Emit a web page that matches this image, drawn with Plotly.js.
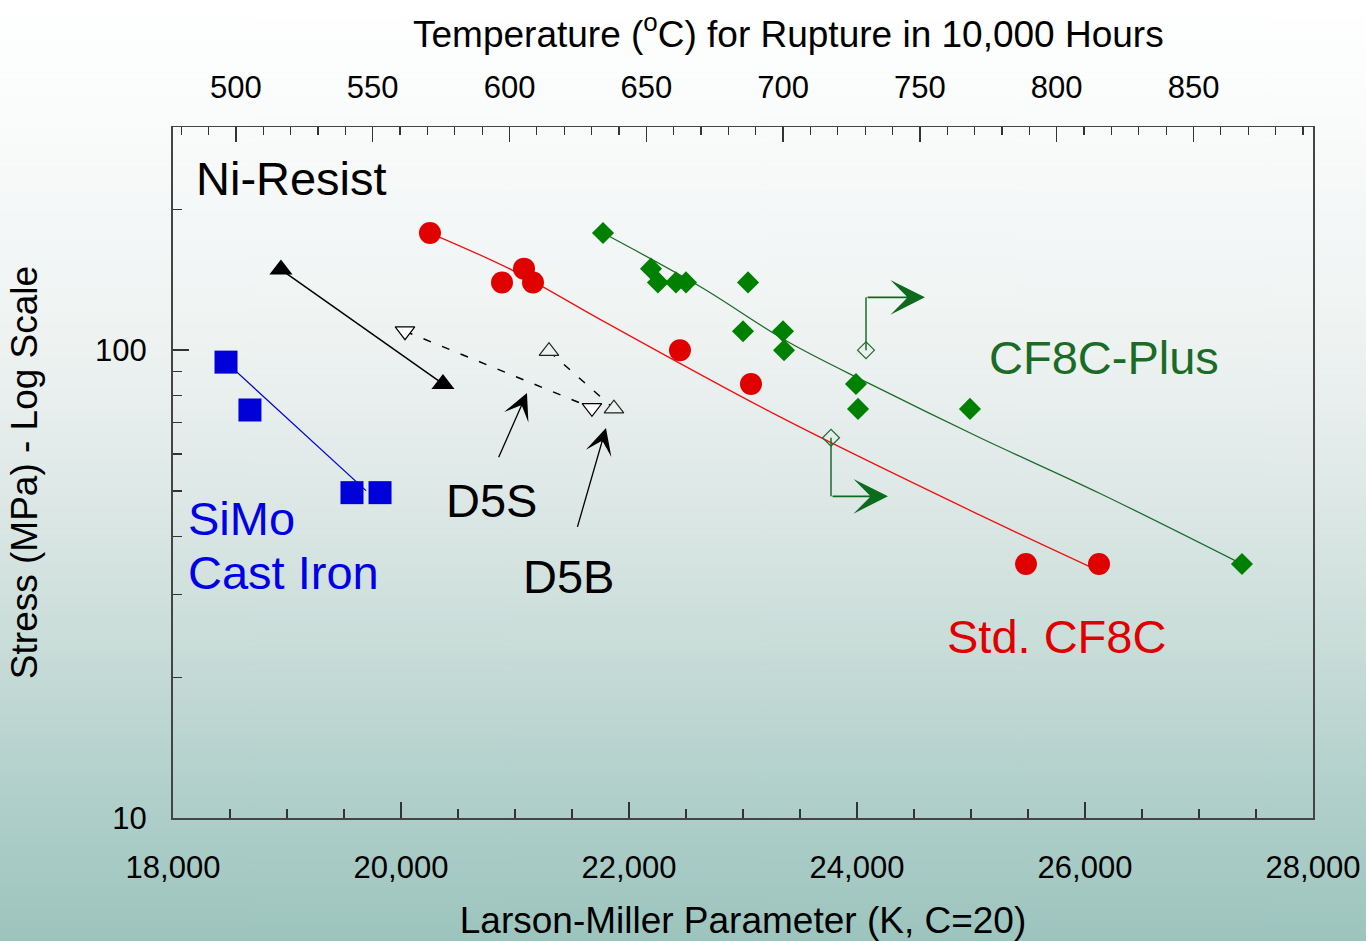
<!DOCTYPE html>
<html>
<head>
<meta charset="utf-8">
<script src="https://cdn.plot.ly/plotly-3.0.1.min.js"></script>
<style>
  html, body { margin: 0; padding: 0; }
  body {
    width: 1366px; height: 941px; overflow: hidden;
    background: linear-gradient(to bottom, #ffffff 0px, #f8fafa 150px, #edf2f1 350px, #dde8e6 500px, #c8dcd8 650px, #b0cfca 800px, #9cc4bd 941px);
  }
  #chart { width: 1366px; height: 941px; }
</style>
</head>
<body>
<div id="chart"></div>
<script>
// ---- Data (Larson-Miller parameter, stress in MPa) ----
const simoLMP = [18465, 18675, 19570, 19816];
const simoStress = [94.3, 74.5, 49.6, 49.6];
const simoFitLMP = [18465, 19693];
const simoFitStress = [94.3, 50.1];

const niResistLMP = [18947, 20368];
const niResistStress = [148.7, 84.7];

const d5sLMP = [20035, 21675];
const d5sStress = [109.8, 75.3];
const d5bLMP = [21298, 21868];
const d5bStress = [99.5, 75.0];

const cf8cLMP = [20254, 20886, 21079, 21158, 22447, 23070, 25482, 26123];
const cf8cStress = [178, 139.6, 149.4, 139.6, 100, 84.7, 34.9, 34.9];
const cf8cFitLMP = [20254, 20982, 21746, 23325, 25079, 26060];
const cf8cFitStress = [178, 148, 116.4, 72.0, 44.4, 34.3];

const plusLMP = [21772, 22193, 22254, 22412, 22500, 23044, 23000, 23351, 23360, 23991, 24009, 24991, 27377];
const plusStress = [178, 149.4, 139.6, 139.6, 139.6, 139.6, 109.8, 109.8, 100, 84.7, 74.9, 74.9, 34.9];
const plusFitLMP = [21772, 22623, 23386, 24114, 25079, 26132, 27377];
const plusFitStress = [178, 136.8, 104.5, 84.7, 65.0, 49.4, 34.9];

// run-out (still running) tests and their arrows
const runLMP = [24079, 23772];
const runStress = [100, 65];
const runArrowStress = [129.7, 48.7];
const runArrowEndLMP = [24596, 24272];

// top axis temperatures (°C) ; LMP = (T+273)*(20+log10(10000))
const tempTicks = [500, 550, 600, 650, 700, 750, 800, 850];
const lmpRange = [18000, 28000];
const stressRange = [10, 300];

const FONT = '"Liberation Sans", Arial, Helvetica, sans-serif';
const GREEN = '#008000', GREEN_LINE = '#1e6b2b', GREEN_TXT = '#1a6b26';
const RED = '#e00000', BLUE = '#0000d8';

const traces = [
  {x: simoFitLMP, y: simoFitStress, mode: 'lines', line: {color: BLUE, width: 1.3}},
  {x: simoLMP, y: simoStress, mode: 'markers', marker: {symbol: 'square', size: 23, color: BLUE}},
  {x: niResistLMP, y: niResistStress, mode: 'lines+markers', line: {color: '#000', width: 1.5},
   marker: {symbol: 'triangle-up', size: 20, color: '#000'}},
  {x: d5sLMP, y: d5sStress, mode: 'lines+markers', line: {color: '#000', width: 1.5, dash: '8px,12px'},
   marker: {symbol: 'triangle-down', size: 17, color: '#fff', line: {color: '#000', width: 1.2}}},
  {x: d5bLMP, y: d5bStress, mode: 'lines+markers', line: {color: '#000', width: 1.5, dash: '8px,12px'},
   marker: {symbol: 'triangle-up', size: 17, color: 'rgba(235,242,240,1)', line: {color: '#222', width: 1.2}}},
  {x: cf8cFitLMP, y: cf8cFitStress, mode: 'lines', line: {color: '#f01010', width: 1.3, shape: 'spline'}},
  {x: cf8cLMP, y: cf8cStress, mode: 'markers', marker: {symbol: 'circle', size: 22, color: RED}},
  {x: plusFitLMP, y: plusFitStress, mode: 'lines', line: {color: GREEN_LINE, width: 1.3, shape: 'spline'}},
  {x: plusLMP, y: plusStress, mode: 'markers', marker: {symbol: 'diamond', size: 17, color: GREEN}},
];
// vertical parts of run-out arrows
for (let i = 0; i < runLMP.length; i++) {
  traces.push({x: [runLMP[i], runLMP[i]], y: [runStress[i], runArrowStress[i]], mode: 'lines',
               line: {color: GREEN_LINE, width: 1.5}});
}
traces.push({x: runLMP, y: runStress, mode: 'markers',
             marker: {symbol: 'diamond-open', size: 13, color: GREEN_LINE, line: {width: 1.2}}});
// dummy trace for top axis
traces.push({x: tempTicks, y: [null], xaxis: 'x2', yaxis: 'y', mode: 'markers', hoverinfo: 'skip', showlegend: false});
traces.forEach(t => { if (t.showlegend === undefined) t.showlegend = false; });

const L = Math.log10;
function label(text, x, y, color, size) {
  return {text: text, xref: 'paper', yref: 'paper', x: x, y: y, xanchor: 'left', yanchor: 'middle',
          showarrow: false, font: {family: FONT, size: size || 47, color: color}};
}
function arrow(x0, y0, x1, y1, color, size, width) {
  return {text: '', x: x1, y: L(y1), xref: 'x', yref: 'y', ax: x0, ay: L(y0), axref: 'x', ayref: 'y',
          showarrow: true, arrowhead: 3, arrowsize: size, arrowwidth: width, arrowcolor: color, standoff: 0};
}

const annotations = [
  {text: 'Temperature (<sup>o</sup>C) for Rupture in 10,000 Hours', xref: 'paper', yref: 'paper',
   x: 0.5395, y: 1.1375, xanchor: 'center', yanchor: 'middle', showarrow: false,
   font: {family: FONT, size: 37, color: '#000'}},
  label('Ni-Resist', 0.018, 0.926, '#000'),
  label('SiMo', 0.011, 0.434, '#0000e6'),
  label('Cast Iron', 0.011, 0.356, '#0000e6'),
  label('D5S', 0.2375, 0.460, '#000'),
  label('D5B', 0.305, 0.349, '#000'),
  label('CF8C-Plus', 0.7138, 0.667, GREEN_TXT),
  label('Std. CF8C', 0.677, 0.263, RED),
  arrow(20851, 58.6, 21105, 81.0, '#000', 3.4, 1.3),
  arrow(21544, 41.6, 21798, 68.2, '#000', 3.4, 1.3),
];
for (let i = 0; i < runLMP.length; i++) {
  annotations.push(arrow(runLMP[i], runArrowStress[i], runArrowEndLMP[i], runArrowStress[i], '#0c6b1c', 3.6, 1.6));
}

const layout = {
  width: 1366, height: 941,
  margin: {l: 173, r: 53, t: 127, b: 123},
  paper_bgcolor: 'rgba(0,0,0,0)', plot_bgcolor: 'rgba(0,0,0,0)',
  font: {family: FONT, color: '#000', size: 31},
  showlegend: false,
  xaxis: {
    range: lmpRange, showgrid: false, zeroline: false,
    showline: true, linecolor: '#444', linewidth: 2, mirror: false,
    ticks: 'inside', ticklen: 16, tickwidth: 1.5, tickcolor: '#333',
    dtick: 2000, tick0: 18000, tickformat: ',d', ticklabelstandoff: 21,
    tickfont: {size: 31, family: FONT},
    minor: {dtick: 500, ticks: 'inside', ticklen: 9, tickwidth: 1.3, tickcolor: '#333', showgrid: false},
    title: {text: 'Larson-Miller Parameter (K, C=20)', font: {size: 37, family: FONT}, standoff: 26},
  },
  xaxis2: {
    overlaying: 'x', side: 'top', anchor: 'y',
    range: [lmpRange[0] / 24 - 273, lmpRange[1] / 24 - 273],
    showgrid: false, zeroline: false, showline: true, linecolor: '#444', linewidth: 1.5,
    ticks: 'inside', ticklen: 15, tickwidth: 1.3, tickcolor: '#333',
    tickmode: 'array', tickvals: tempTicks, ticklabelstandoff: 15,
    tickfont: {size: 31, family: FONT},
    minor: {dtick: 10, tick0: 480, ticks: 'inside', ticklen: 8, tickwidth: 1.2, tickcolor: '#333', showgrid: false},
  },
  yaxis: {
    type: 'log', range: [L(stressRange[0]), L(stressRange[1])],
    showgrid: false, zeroline: false, showline: true, linecolor: '#444', linewidth: 2, mirror: true,
    ticks: 'inside', ticklen: 16, tickwidth: 1.5, tickcolor: '#333',
    tickmode: 'array', tickvals: [10, 100], ticktext: ['10', '100'], ticklabelstandoff: 18,
    tickfont: {size: 31, family: FONT},
    minor: {tickmode: 'array', tickvals: [20, 30, 40, 50, 60, 70, 80, 90, 200],
            ticks: 'inside', ticklen: 9, tickwidth: 1.3, tickcolor: '#333', showgrid: false},
    title: {text: 'Stress (MPa) - Log Scale', font: {size: 37, family: FONT}, standoff: 46},
  },
  annotations: annotations,
};

Plotly.newPlot('chart', traces, layout, {displayModeBar: false, staticPlot: true});
</script>
</body>
</html>
